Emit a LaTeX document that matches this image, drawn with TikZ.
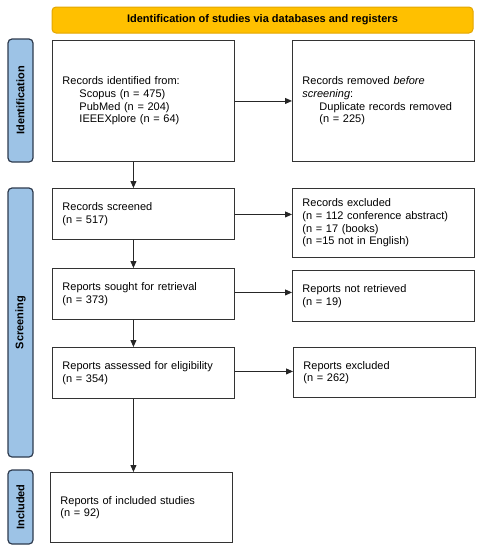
\documentclass[tikz,border=0pt]{standalone}
\usepackage{fontspec}
\setmainfont{Liberation Sans}
\usetikzlibrary{arrows.meta,positioning,calc}

\definecolor{bannerfill}{HTML}{FFC000}
\definecolor{bannerline}{HTML}{E3A600}
\definecolor{sidefill}{HTML}{9DC3E6}
\definecolor{sideline}{HTML}{2E3B4E}

\tikzset{
  box/.style={draw=black!80, line width=0.9pt, anchor=north west, align=left, text width=162pt, inner xsep=10pt, inner ysep=0pt, minimum height=#1},
  sidebar/.style={draw=sideline, fill=sidefill, line width=1.2pt, rounded corners=4pt, rotate=90, minimum width=#1, minimum height=25pt, inner sep=0pt, font=\bfseries\fontsize{11}{12}\selectfont},
  flow/.style={-{Triangle[length=7pt,width=6pt]}, line width=0.9pt, black!85}
}

\begin{document}
\begin{tikzpicture}[x=1pt, y=-1pt, font=\fontsize{11}{12.6}\selectfont]
  \useasboundingbox (0,0) rectangle (483,550);

  \node[draw=bannerline, fill=bannerfill, line width=1pt, rounded corners=4pt, minimum width=421pt, minimum height=26pt, inner sep=0pt, font=\bfseries\fontsize{11}{12}\selectfont] (banner) at (262.5,20) {Identification of studies via databases and registers};

  \node[sidebar=123pt] (sideid) at (20.5,100.5) {Identification};
  \node[sidebar=269pt] (sidescr) at (20.5,322.5) {Screening};
  \node[sidebar=74pt] (sideinc) at (20.5,507) {Included};

  \node[box=121pt] (ident) at (52,40) {Records identified from:\\
    \hspace*{17pt}Scopus (n = 475)\\
    \hspace*{17pt}PubMed (n = 204)\\
    \hspace*{17pt}IEEEXplore (n = 64)};
  \node[box=121pt] (removed) at (292,40) {Records removed \textit{before}\\
    \textit{screening}:\\
    \hspace*{17pt}Duplicate records removed\\
    \hspace*{17pt}(n = 225)\\[8pt]};

  \node[box=51pt] (screened) at (52,188) {Records screened\\(n = 517)};
  \node[box=69pt] (excluded) at (292,188) {Records excluded\\(n = 112 conference abstract)\\(n = 17 (books)\\(n =15 not in English)};

  \node[box=51pt] (sought) at (52,268) {Reports sought for retrieval\\(n = 373)};
  \node[box=51pt] (notret) at (292,270) {Reports not retrieved\\(n = 19)};

  \node[box=51pt] (assessed) at (52,347) {Reports assessed for eligibility\\(n = 354)};
  \node[box=50pt] (repexcl) at (293,347) {Reports excluded\\(n = 262)};

  \node[box=70pt] (included) at (50,472) {Reports of included studies\\(n = 92)};

  \draw[flow] (ident.east) -- (ident.east -| removed.west);
  \draw[flow] ([yshift=-0.5pt]screened.east) -- ([yshift=-0.5pt]screened.east -| excluded.west);
  \draw[flow] ([yshift=1.5pt]sought.east) -- ([yshift=1.5pt]sought.east -| notret.west);
  \draw[flow] ([yshift=1.5pt]assessed.east) -- ([yshift=1.5pt]assessed.east -| repexcl.west);

  \draw[flow] ([xshift=-10pt]ident.south) -- ([xshift=-10pt]ident.south |- screened.north);
  \draw[flow] ([xshift=-10pt]screened.south) -- ([xshift=-10pt]screened.south |- sought.north);
  \draw[flow] ([xshift=-10pt]sought.south) -- ([xshift=-10pt]sought.south |- assessed.north);
  \draw[flow] ([xshift=-10pt]assessed.south) -- ([xshift=-10pt]assessed.south |- included.north);
\end{tikzpicture}
\end{document}
